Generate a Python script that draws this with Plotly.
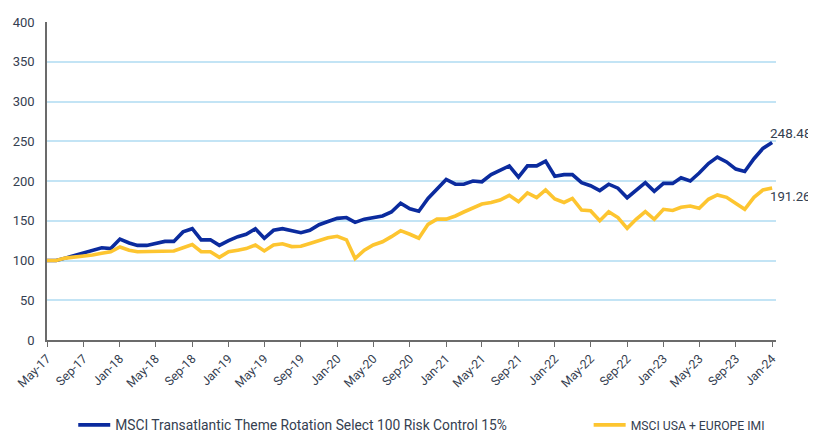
import plotly.graph_objects as go
import pandas as pd

months = list(pd.date_range("2017-05-01", "2024-01-01", freq="MS"))

transatlantic = [
    100, 100, 103, 106, 109, 113, 116, 115, 127, 122, 119, 119,
    122, 124, 124, 136, 140, 126, 126, 119, 125, 130, 133, 140,
    128, 138, 140, 137, 135, 138, 145, 149, 153, 154, 148, 152,
    154, 156, 161, 172, 165, 162, 178, 190, 202, 196, 196, 200,
    199, 208, 213, 219, 205, 219, 219, 225, 206, 208, 208, 198,
    194, 188, 196, 191, 179, 189, 198, 187, 197, 197, 204, 200,
    210, 222, 230, 224, 215, 212, 228, 241, 248.48,
]

usa_europe = [
    100, 100, 103, 104, 105, 107, 109, 111, 117, 113, 111, 111,
    112, 112, 112, 116, 120, 111, 111, 104, 111, 113, 115, 119.5,
    112, 119.5, 121, 117.5, 118, 121.5, 125, 128.5, 130.5, 126, 102.5, 113,
    119.5, 123.5, 130, 137.5, 133, 128, 145.5, 152, 152, 156, 161, 165.6,
    171, 173, 176, 182, 174, 185, 179, 188.7, 177.4, 173, 178, 163.5,
    162.6, 150, 161.4, 154, 140.5, 151.8, 161.4, 151.8, 164.4, 163, 167, 168.5,
    165.6, 177, 182.4, 179.5, 172, 164.4, 179.5, 188.7, 191.26,
]

tick_dates = months[::4]
tick_labels = ["May-17", "Sep-17", "Jan-18", "May-18", "Sep-18", "Jan-19", "May-19",
               "Sep-19", "Jan-20", "May-20", "Sep-20", "Jan-21", "May-21", "Sep-21",
               "Jan-22", "May-22", "Sep-22", "Jan-23", "May-23", "Sep-23", "Jan-24"]

names = ["MSCI Transatlantic Theme Rotation Select 100 Risk Control 15%",
         "MSCI USA + EUROPE IMI"]
colors = ["#0B2B9E", "#FDC530"]

FONT = "Roboto"
TXT = "#354050"

fig = go.Figure()
fig.add_trace(go.Scatter(x=months, y=transatlantic, mode="lines", name=names[0],
                         line=dict(color=colors[0], width=3.6), legend="legend"))
fig.add_trace(go.Scatter(x=months, y=usa_europe, mode="lines", name=names[1],
                         line=dict(color=colors[1], width=3.6), legend="legend2"))

fig.add_annotation(x=months[-1], y=transatlantic[-1], text=f"{transatlantic[-1]:.2f}",
                   showarrow=False, xanchor="left", yanchor="middle", xshift=-4, yshift=9,
                   font=dict(family=FONT, size=13.5, color=TXT))
fig.add_annotation(x=months[-1], y=usa_europe[-1], text=f"{usa_europe[-1]:.2f}",
                   showarrow=False, xanchor="left", yanchor="middle", xshift=-4, yshift=-9,
                   font=dict(family=FONT, size=13.2, color=TXT))

# page body has an 8px default margin, so the figure is 8px smaller and margins shifted
fig.update_layout(
    width=808, height=424,
    margin=dict(l=39, r=40, t=14, b=92, autoexpand=False),
    paper_bgcolor="white", plot_bgcolor="white",
    font=dict(family=FONT, size=12, color=TXT),
    showlegend=True,
    legend=dict(orientation="h", x=0.036, xanchor="left", y=-0.267, yanchor="middle",
                font=dict(family=FONT, size=13.8, color=TXT), itemwidth=32),
    legend2=dict(orientation="h", x=0.743, xanchor="left", y=-0.267, yanchor="middle",
                 font=dict(family=FONT, size=12.2, color=TXT), itemwidth=32),
)
fig.update_xaxes(
    type="date", automargin=False,
    range=["2017-05-01", "2024-01-14"],
    tickvals=tick_dates, ticktext=tick_labels, tickangle=-45,
    tickfont=dict(family=FONT, size=12.3, color=TXT),
    showgrid=False, showline=True, linecolor="#6b6b6b", linewidth=1.5,
    ticks="outside", ticklen=5, tickcolor="#6b6b6b", zeroline=False,
)
fig.update_yaxes(
    range=[0, 400], dtick=50, automargin=False,
    tickfont=dict(family=FONT, size=13, color=TXT), ticklabelstandoff=8,
    showgrid=True, gridcolor="#C3E4F5", gridwidth=1.5,
    showline=True, linecolor="#6b6b6b", linewidth=1.5,
    zeroline=False, ticks="", ticklen=0,
)

fig.write_html("out.html")
